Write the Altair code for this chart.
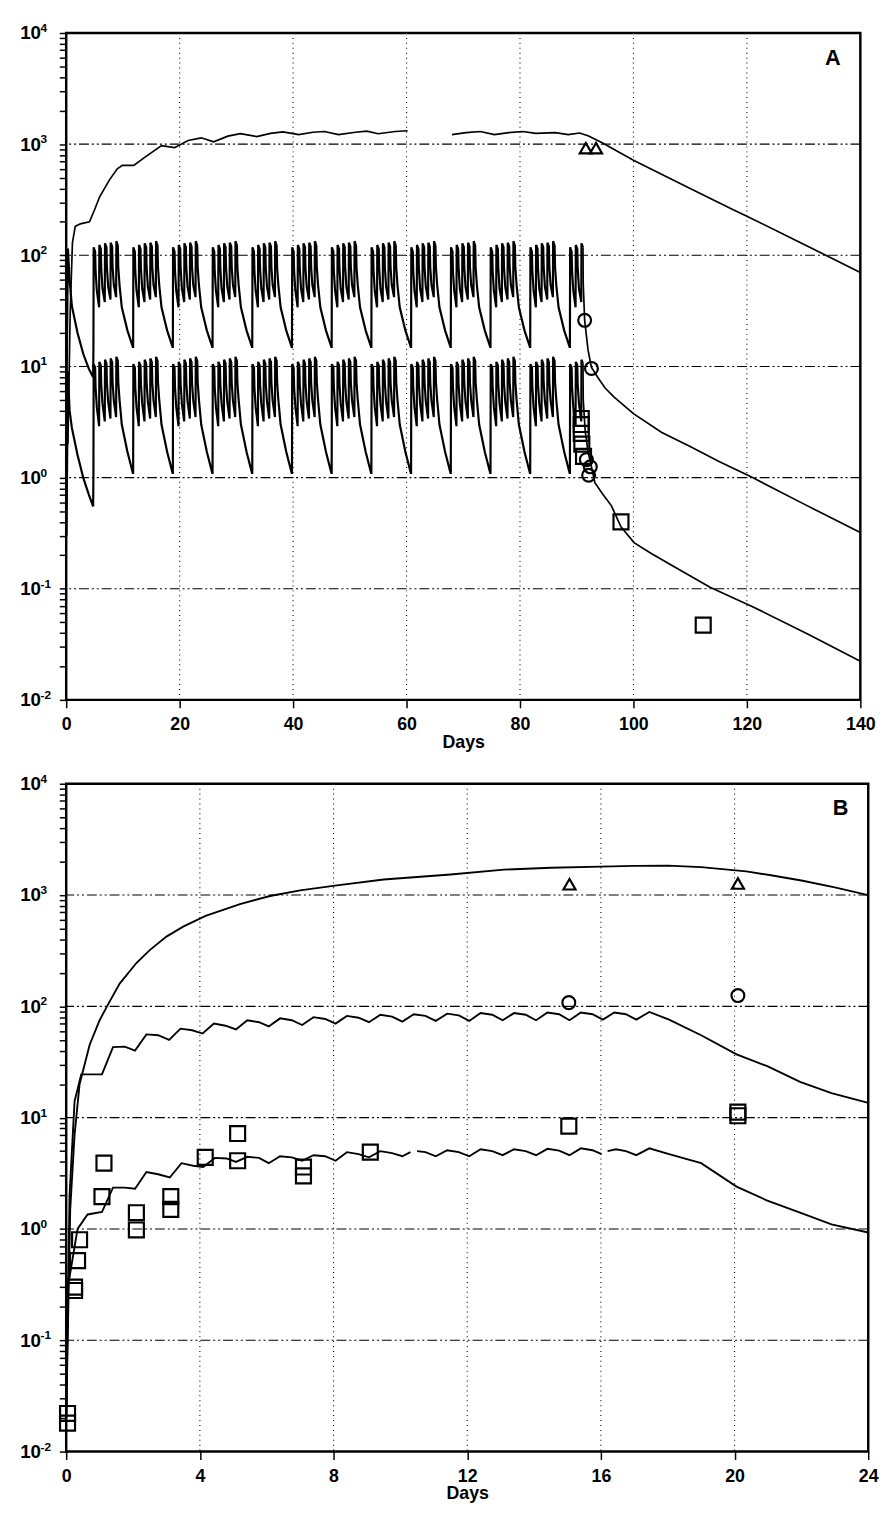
import altair as alt
import pandas as pd

FONT = "Liberation Sans Narrow, Liberation Sans, DejaVu Sans, sans-serif"

# ---------------- shared axis data ----------------
DECADES = [0.1, 1, 10, 100, 1000]
DECADE_ALL = [0.01, 0.1, 1, 10, 100, 1000, 10000]
EXPONENTS = ["-2", "-1", "0", "1", "2", "3", "4"]
Y_TICKS = [k * 10.0 ** e for e in range(-2, 4) for k in range(1, 10)] + [10000]

# ---------------- Panel A ----------------
A_XTICKS = [0, 20, 40, 60, 80, 100, 120, 140]
A_VGRID = [20, 40, 60, 80, 100, 120]

A_TOP1_DAY = [0.3, 0.7, 1.1, 1.6, 2.5, 4.1, 5.0, 5.9, 7.6, 9.0, 9.9, 11.9, 13.9, 16.8, 19.1, 21.5,
              23.8, 26.0, 28.5, 30.7, 33.6, 36.0, 38.2, 41.0, 43.5, 45.5, 48.0, 51.0, 53.0, 55.0, 58.0, 60.2]
A_TOP1_VAL = [2, 30, 130, 182, 192, 200, 257, 336, 475, 600, 645, 645, 765, 970, 930, 1080,
              1140, 1050, 1180, 1245, 1170, 1250, 1290, 1220, 1280, 1300, 1220, 1280, 1310, 1240, 1300, 1320]
A_TOP2_DAY = [68.0, 70.5, 73.0, 75.5, 78.0, 80.5, 82.8, 86.2, 88.5, 90.5, 92.0, 94.4, 100, 110, 117.5, 120, 130, 140]
A_TOP2_VAL = [1220, 1270, 1300, 1220, 1270, 1300, 1250, 1270, 1220, 1260, 1190, 1035, 716, 400, 258, 225, 126, 70]

# first single exposure (days 0-5)
A_INIT_DAY = [0.05, 0.3, 0.6, 1.0, 2.0, 3.0, 4.0, 4.75]
A_INIT_MID = [5, 115, 60, 35, 20, 13, 9.5, 8]
A_INIT_LOW = [0.3, 9, 4, 2.8, 1.6, 1.0, 0.7, 0.55]

# weekly exposure profile (offset in days from week start), read from one block
WEEK_OFFSET = [0.00, 0.04, 0.30, 0.38, 0.60,
               1.00, 1.04, 1.30, 1.38, 1.60,
               2.00, 2.04, 2.30, 2.38, 2.60,
               3.00, 3.04, 3.30, 3.38, 3.60,
               4.00, 4.04, 4.30, 4.38, 4.60,
               5.00, 6.00, 6.95]
WEEK_MID = [15, 118, 108, 72, 48,
            34, 124, 114, 75, 50,
            38, 128, 118, 77, 52,
            40, 130, 120, 78, 54,
            42, 134, 122, 78, 54,
            34, 21, 15]
WEEK_LOW = [1.1, 10.5, 9.8, 6.5, 4.3,
            2.9, 11.0, 10.2, 6.8, 4.6,
            3.2, 11.5, 10.6, 7.0, 4.8,
            3.4, 11.8, 10.9, 7.1, 4.9,
            3.5, 12.2, 11.2, 7.2, 5.0,
            3.0, 1.7, 1.1]
WEEK_START = [4.8, 11.8, 18.8, 25.8, 32.8, 39.8, 46.8, 53.8, 60.8, 67.8, 74.8, 81.8, 88.8]
WEEK_DOSES = [5, 5, 5, 5, 5, 5, 5, 5, 5, 5, 5, 5, 3]

# post-exposure washout
A_MID_WASH_DAY = [91.15, 91.4, 92.0, 92.6, 93.7, 95.0, 96.6, 100, 105, 110, 115, 121, 130, 140]
A_MID_WASH_VAL = [55, 26, 14, 9.8, 8.0, 6.4, 5.3, 3.76, 2.55, 1.9, 1.4, 1.0, 0.58, 0.32]
A_LOW_WASH_DAY = [91.15, 91.5, 92.0, 92.6, 93.2, 94.5, 96.1, 97.8, 100.1, 103, 106.5, 113.5, 121, 130.8, 140]
A_LOW_WASH_VAL = [5.0, 2.6, 1.7, 1.25, 0.9, 0.72, 0.56, 0.36, 0.26, 0.21, 0.165, 0.103, 0.069, 0.039, 0.0223]

A_SQ_DAY = [90.8, 90.8, 90.8, 90.9, 91.2, 97.8, 112.3]
A_SQ_VAL = [3.4, 3.0, 2.5, 2.0, 1.55, 0.40, 0.047]
A_CI_DAY = [91.4, 92.6, 91.7, 92.4, 92.1]
A_CI_VAL = [26, 9.6, 1.45, 1.25, 1.05]
A_TR_DAY = [91.6, 93.4]
A_TR_VAL = [920, 920]

# ---------------- Panel B ----------------
B_XTICKS = [0, 4, 8, 12, 16, 20, 24]
B_VGRID = [4, 8, 12, 16, 20]

B_TOP_DAY = [0.0, 0.12, 0.25, 0.4, 0.7, 1.0, 1.22, 1.6, 2.1, 2.5, 3.0, 3.5, 4.17, 5.2, 6.1, 7.0, 8.1, 9.5,
             11.5, 13.1, 14.5, 16.0, 17.0, 18.0, 19.0, 20.35, 21.0, 22.0, 23.0, 24.0]
B_TOP_VAL = [0.02, 1.5, 7, 20, 45, 75, 100, 160, 245, 320, 423, 520, 650, 830, 980, 1100, 1220, 1380,
             1530, 1690, 1760, 1800, 1830, 1840, 1780, 1630, 1520, 1350, 1170, 1000]

B_MID_DAY = [0.0, 0.1, 0.25, 0.45, 1.07, 1.4, 1.75, 2.06, 2.4, 2.75, 3.08, 3.42, 3.77, 4.08, 4.42, 4.77,
             5.08, 5.42, 5.77, 6.06, 6.4, 6.75, 7.06, 7.4, 7.75, 8.06, 8.4, 8.75, 9.06, 9.4, 9.75,
             10.06, 10.4, 10.75, 11.06, 11.4, 11.75, 12.06, 12.4, 12.75, 13.06, 13.4, 13.75,
             14.06, 14.4, 14.75, 15.06, 15.4, 15.75, 16.06, 16.4, 16.75, 17.06, 17.45,
             18.04, 19.0, 20.06, 20.98, 21.96, 22.9, 24.0]
B_MID_VAL = [0.02, 2, 14, 24.5, 24.5, 43, 43.5, 40, 56, 55, 50, 63, 61, 57, 70, 67,
             62, 75, 72, 66, 78, 75, 68, 80, 77, 70, 82, 79, 72, 84, 81,
             73, 85, 82, 74, 86, 83, 74, 87, 84, 75, 87, 84,
             75, 88, 85, 75, 88, 85, 76, 88, 85, 76, 89,
             76, 55, 37, 29, 21, 16.6, 13.6]

B_LOW1_DAY = [0.0, 0.05, 0.34, 0.64, 1.07, 1.4, 1.75, 2.06, 2.4, 2.75, 3.1, 3.45, 3.8, 4.1, 4.45, 4.8,
              5.08, 5.42, 5.77, 6.06, 6.4, 6.75, 7.06, 7.4, 7.75, 8.06, 8.4, 8.75, 9.06, 9.4, 9.75, 10.06, 10.3]
B_LOW1_VAL = [0.02, 0.3, 1.0, 1.35, 1.42, 2.35, 2.35, 2.3, 3.25, 3.1, 2.9, 3.9, 3.7, 3.6, 4.35, 4.3,
              4.0, 4.45, 4.35, 3.9, 4.5, 4.4, 4.1, 4.6, 4.5, 4.1, 4.9, 4.7, 4.4, 5.0, 4.8, 4.5, 4.9]
B_LOW2_DAY = [10.5, 10.75, 11.06, 11.4, 11.75, 12.06, 12.4, 12.75, 13.06, 13.4, 13.75, 14.06, 14.4, 14.75,
              15.06, 15.4, 15.75, 16.02]
B_LOW2_VAL = [5.0, 4.9, 4.5, 5.1, 4.9, 4.5, 5.2, 5.0, 4.6, 5.2, 5.0, 4.6, 5.25, 5.05, 4.6, 5.3, 5.1, 4.7]
B_LOW3_DAY = [16.2, 16.45, 16.75, 17.06, 17.45, 18.04, 19.0, 20.06, 20.98, 21.96, 22.9, 24.0]
B_LOW3_VAL = [5.0, 5.2, 5.0, 4.6, 5.3, 4.7, 3.9, 2.4, 1.8, 1.4, 1.1, 0.93]

B_SQ_DAY = [0.04, 0.04, 0.25, 0.25, 0.34, 0.4, 1.07, 1.13, 2.1, 2.1, 3.13, 3.13, 4.16, 5.13, 5.13,
            7.1, 7.1, 9.1, 15.04, 20.1, 20.1]
B_SQ_VAL = [0.022, 0.018, 0.30, 0.28, 0.52, 0.80, 1.95, 3.9, 1.4, 0.98, 1.95, 1.5, 4.4, 7.2, 4.1,
            3.6, 3.0, 4.9, 8.4, 11.2, 10.4]
B_CI_DAY = [15.04, 20.1]
B_CI_VAL = [108, 125]
B_TR_DAY = [15.06, 20.1]
B_TR_VAL = [1250, 1270]


# ---------------- build tables ----------------
def table(segments):
    rows = []
    for seg, days, vals in segments:
        for i, (d, v) in enumerate(zip(days, vals)):
            rows.append({"day": d, "value": v, "seg": seg, "ord": i})
    return pd.DataFrame(rows)


def weekly(init_day, init_val, profile):
    days, vals = list(init_day), list(init_val)
    for start, nd in zip(WEEK_START, WEEK_DOSES):
        for off, v in zip(WEEK_OFFSET, profile):
            if nd < 5 and off > nd - 1 + 0.35:
                break
            days.append(round(start + off, 3))
            vals.append(v)
    return days, vals


a_mid_d, a_mid_v = weekly(A_INIT_DAY, A_INIT_MID, WEEK_MID)
a_low_d, a_low_v = weekly(A_INIT_DAY, A_INIT_LOW, WEEK_LOW)

# dosing period (dense spikes) and washout (starting from the last peak)
A_SPIKE = table([("mid", a_mid_d, a_mid_v), ("low", a_low_d, a_low_v)])
A_THICK = table([("top1", A_TOP1_DAY, A_TOP1_VAL), ("top2", A_TOP2_DAY, A_TOP2_VAL),
                 ("midw", a_mid_d[-1:] + A_MID_WASH_DAY, a_mid_v[-1:] + A_MID_WASH_VAL),
                 ("loww", a_low_d[-1:] + A_LOW_WASH_DAY, a_low_v[-1:] + A_LOW_WASH_VAL)])
B_THICK = table([("top", B_TOP_DAY, B_TOP_VAL), ("mid", B_MID_DAY, B_MID_VAL),
                 ("low1", B_LOW1_DAY, B_LOW1_VAL), ("low2", B_LOW2_DAY, B_LOW2_VAL),
                 ("low3", B_LOW3_DAY, B_LOW3_VAL)])
EXP_TABLE = pd.DataFrame({"value": DECADE_ALL, "exp": EXPONENTS})

LABEL_EXPR = "abs(log(datum.value)/LN10 - round(log(datum.value)/LN10)) > 0.01 ? '' : '10'"


def panel(spike, thick, thick_w, sq, ci, tr, dom, xticks, vgrid, width, height, extent, label):
    xs = alt.Scale(domain=dom, nice=False, zero=False)
    ys = alt.Scale(type="log", domain=[0.01, 10000], nice=False)
    xax = alt.Axis(values=xticks, title="Days", grid=False, domain=False, labelFlush=False,
                   labelOverlap=False, tickSize=8, tickWidth=1.5, tickColor="black",
                   labelColor="black", titleColor="black", labelFont=FONT, labelFontSize=18,
                   labelFontWeight="bold", titleFont=FONT, titleFontSize=18, titleFontWeight="bold",
                   labelPadding=8, titlePadding=0)
    yax = alt.Axis(values=Y_TICKS, labelExpr=LABEL_EXPR, title=None, grid=False, domain=False,
                   labelOverlap=False, labelBound=False, tickSize=7, tickWidth=1.5, tickColor="black",
                   labelColor="black", labelFont=FONT, labelFontSize=19, labelFontWeight="bold",
                   minExtent=extent, maxExtent=extent, labelPadding=19, labelBaseline="middle")

    def X():
        return alt.X("day:Q", scale=xs, axis=xax)

    def Y():
        return alt.Y("value:Q", scale=ys, axis=yax)

    hg = alt.Chart(pd.DataFrame({"value": DECADES})).mark_rule(
        color="black", strokeWidth=1.1, strokeDash=[10, 3, 2, 3, 2, 3]).encode(y=Y())
    vg = alt.Chart(pd.DataFrame({"day": vgrid})).mark_rule(
        color="black", strokeWidth=1.1, strokeDash=[1, 4]).encode(x=X())
    layers = [hg, vg]
    if spike is not None:
        layers.append(alt.Chart(spike).mark_line(color="black", strokeWidth=2.2, clip=True).encode(
            x=X(), y=Y(), detail="seg:N", order="ord:Q"))
    layers.append(alt.Chart(thick).mark_line(color="black", strokeWidth=thick_w, clip=True).encode(
        x=X(), y=Y(), detail="seg:N", order="ord:Q"))
    for df, shape, size in [(sq, "square", 230), (ci, "circle", 170), (tr, "triangle-up", 150)]:
        layers.append(alt.Chart(df).mark_point(shape=shape, size=size, filled=False, color="black",
                                               strokeWidth=2.2, opacity=1).encode(x=X(), y=Y()))
    # superscript exponents of the y tick labels
    layers.append(alt.Chart(EXP_TABLE).mark_text(
        font=FONT, fontSize=12, fontWeight="bold", align="left", baseline="middle", dy=-5,
        color="black").encode(x=alt.value(-26), y=Y(), text="exp:N"))
    layers.append(alt.Chart(pd.DataFrame({"label": [label]})).mark_text(
        font=FONT, fontSize=22, fontWeight="bold", align="right", baseline="top", color="black").encode(
        x=alt.value(width - 20), y=alt.value(15), text="label:N"))
    return alt.layer(*layers).properties(width=width, height=height)


def pts(days, vals):
    return pd.DataFrame({"day": days, "value": vals})


pA = panel(A_SPIKE, A_THICK, 1.7, pts(A_SQ_DAY, A_SQ_VAL), pts(A_CI_DAY, A_CI_VAL), pts(A_TR_DAY, A_TR_VAL),
           [0, 140], A_XTICKS, A_VGRID, 805, 676, 52, "A")
pB = panel(None, B_THICK, 1.9, pts(B_SQ_DAY, B_SQ_VAL), pts(B_CI_DAY, B_CI_VAL), pts(B_TR_DAY, B_TR_VAL),
           [0, 24], B_XTICKS, B_VGRID, 813, 677, 44, "B")

chart = alt.vconcat(pA, pB, spacing=18).properties(
    padding={"left": 5, "top": 2, "right": 5, "bottom": 5}
).configure_view(stroke="black", strokeWidth=2.5)

chart.save("out.html", embed_options={"renderer": "svg", "actions": False})
